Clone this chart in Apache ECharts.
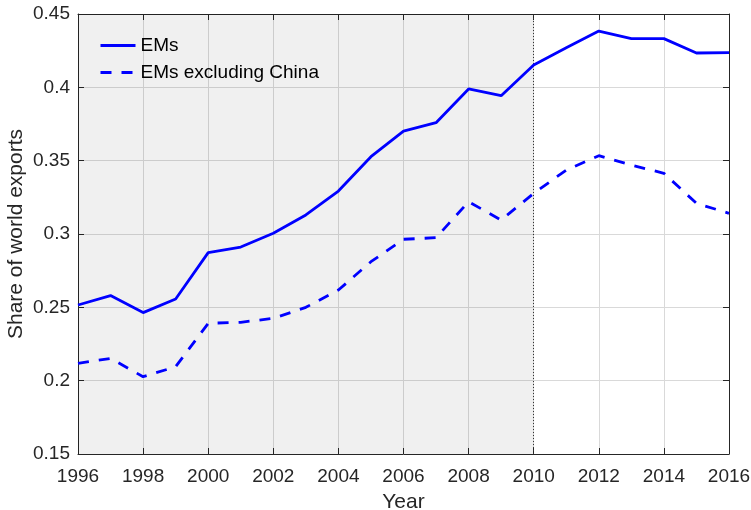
<!DOCTYPE html>
<html><head><meta charset="utf-8">
<script src="https://cdn.jsdelivr.net/npm/echarts@6/dist/echarts.min.js"></script>
<style>html,body{margin:0;padding:0;background:#fff}#c{width:751px;height:510px}</style>
</head><body><div id="c"></div>
<script>
const years = [1996,1997,1998,1999,2000,2001,2002,2003,2004,2005,2006,2007,2008,2009,2010,2011,2012,2013,2014,2015,2016];
const ems = [0.2516,0.258,0.2464,0.2557,0.2873,0.2911,0.3005,0.313,0.3293,0.3527,0.3702,0.3759,0.3989,0.3943,0.4152,0.427,0.4384,0.4332,0.4332,0.4234,0.4236];
const emsExChina = [0.2118,0.2152,0.2027,0.2095,0.2391,0.2398,0.2425,0.25,0.2618,0.2811,0.2964,0.2975,0.322,0.3095,0.3277,0.3436,0.3534,0.347,0.3414,0.3209,0.3141];
const shadeStart = 1996, shadeEnd = 2010;
const seriesNames = ['EMs','EMs excluding China'];

const txt = '#262626';
const font = 'Liberation Sans, Arial, sans-serif';
const chart = echarts.init(document.getElementById('c'));
const axisLine = {show:true, lineStyle:{color:'#262626', width:1}};
const tick = {show:true, inside:true, length:6, lineStyle:{color:'#262626'}};
const split = {show:true, lineStyle:{color:'#d9d9d9', width:1}};
chart.setOption({
  animation:false,
  textStyle:{fontFamily:font},
  grid:{left:78, top:14, right:22, bottom:56, containLabel:false, outerBoundsMode:'none'},
  legend:{
    orient:'vertical', left:94, top:31, itemWidth:35, itemHeight:14, itemGap:8,
    itemStyle:{opacity:0},
    lineStyle:{width:3},
    textStyle:{fontSize:19, color:'#000', fontFamily:font},
    data:seriesNames
  },
  xAxis:[
    {type:'value', min:1996, max:2016, interval:2, name:'Year', nameLocation:'middle', nameGap:38,
     nameMoveOverlap:false,
     nameTextStyle:{fontSize:21, color:txt},
     axisLine:axisLine, axisTick:tick, splitLine:split,
     axisLabel:{fontSize:19, color:txt, margin:13, formatter:v=>String(v)}},
    {type:'value', position:'top', min:1996, max:2016, interval:2,
     axisLine:axisLine, axisTick:tick, splitLine:{show:false}, axisLabel:{show:false}}
  ],
  yAxis:[
    {type:'value', min:0.15, max:0.45, interval:0.05, name:'Share of world exports', nameLocation:'middle', nameGap:51,
     nameMoveOverlap:false,
     nameTextStyle:{fontSize:21, color:txt},
     axisLine:axisLine, axisTick:tick, splitLine:split,
     axisLabel:{fontSize:19, color:txt, margin:8, formatter:v=>String(+v.toFixed(2))}},
    {type:'value', position:'right', min:0.15, max:0.45, interval:0.05,
     axisLine:axisLine, axisTick:tick, splitLine:{show:false}, axisLabel:{show:false}}
  ],
  series:[
    {name:seriesNames[0], type:'line', symbol:'none', data:years.map((y,i)=>[y,ems[i]]),
     lineStyle:{color:'#0000ff', width:2.8}, itemStyle:{color:'#0000ff'}, z:5,
     markArea:{silent:true, itemStyle:{color:'rgba(0,0,0,0.06)'}, data:[[{xAxis:shadeStart},{xAxis:shadeEnd}]]},
     markLine:{silent:true, symbol:'none', label:{show:false},
       lineStyle:{color:'#333', type:[1,2], width:1}, data:[{xAxis:shadeEnd}]}},
    {name:seriesNames[1], type:'line', symbol:'none', data:years.map((y,i)=>[y,emsExChina[i]]),
     lineStyle:{color:'#0000ff', width:2.8, type:[11,10]}, itemStyle:{color:'#0000ff'}, z:5}
  ]
});
</script></body></html>
